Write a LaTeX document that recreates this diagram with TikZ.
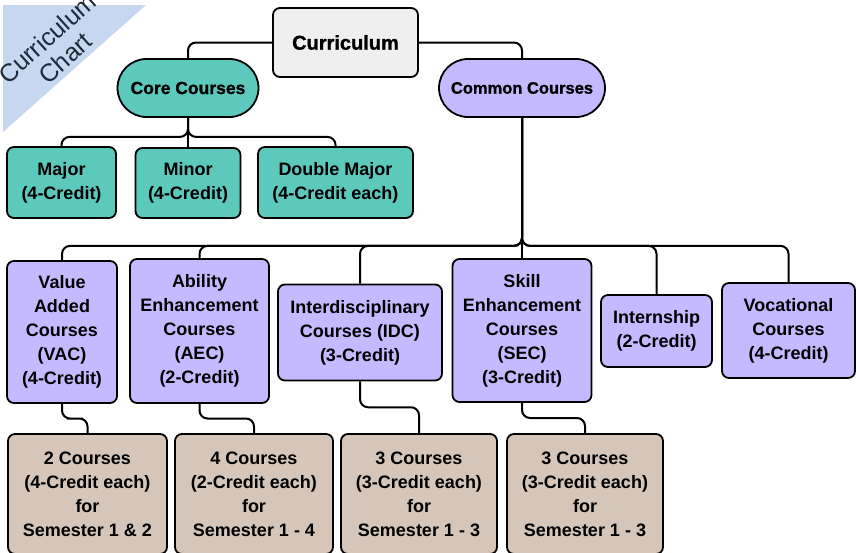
\documentclass[tikz,border=0pt]{standalone}
\usepackage{fontspec}
\setmainfont{Liberation Sans}
\newfontfamily\heavyfont{Liberation Sans Bold}[FakeBold=1.2]
\usetikzlibrary{calc}
\definecolor{cgray}{HTML}{EFEFEF}
\definecolor{cteal}{HTML}{5CC9BC}
\definecolor{clav}{HTML}{C5BAFF}
\definecolor{cbeige}{HTML}{D6C6BA}
\definecolor{cribbon}{HTML}{C5D8F0}
\definecolor{cink}{HTML}{1E2B3A}
\begin{document}
\begin{tikzpicture}[x=1pt,y=-1pt,
   box/.style={draw,line width=1.8pt,rounded corners=7pt,align=center,inner sep=0pt,
      font=\fontsize{18}{24}\selectfont\bfseries},
   pill/.style={box,rounded corners=29pt,minimum height=58pt},
   core box/.style={box,fill=cteal},
   common box/.style={box,fill=clav},
   term box/.style={box,fill=cbeige,minimum width=157pt,minimum height=120pt},
   link/.style={draw,line width=2pt,rounded corners=8pt}]
   \useasboundingbox (0,0) rectangle (856,552);
   \fill[cribbon] (3,5) -- (146,5) -- (3,132) -- cycle;
   \node[rotate=42,align=center,text=cink,font=\fontsize{25}{27}\selectfont] (ribbon) at (56,48) {Curriculum\\Chart};

   \node[box,fill=cgray,minimum width=145pt,minimum height=69pt,font=\fontsize{20}{24}\selectfont\heavyfont] (cur) at (345.5,42.5) {Curriculum};
   \node[pill,fill=cteal,minimum width=141pt,font=\fontsize{17.5}{20}\selectfont\heavyfont] (core) at (188,88) {Core Courses};
   \node[pill,fill=clav,minimum width=166pt,font=\fontsize{16.5}{20}\selectfont\heavyfont] (common) at (522,88) {Common Courses};

   \node[core box,minimum width=109pt,minimum height=71pt] (maj) at (61.5,182.5) {Major\\(4-Credit)};
   \node[core box,minimum width=105pt,minimum height=70pt] (mnr) at (188,183) {Minor\\(4-Credit)};
   \node[core box,minimum width=155pt,minimum height=71pt] (dmaj) at (335.5,182.5) {Double Major\\(4-Credit each)};

   \node[common box,minimum width=110pt,minimum height=142pt] (vac) at (62,332) {Value\\Added\\Courses\\(VAC)\\(4-Credit)};
   \node[common box,minimum width=139pt,minimum height=144pt] (aec) at (199.5,331) {Ability\\Enhancement\\Courses\\(AEC)\\(2-Credit)};
   \node[common box,minimum width=164pt,minimum height=96pt] (idc) at (360,332.5) {Interdisciplinary\\Courses (IDC)\\(3-Credit)};
   \node[common box,minimum width=139pt,minimum height=143pt] (sec) at (522,330.5) {Skill\\Enhancement\\Courses\\(SEC)\\(3-Credit)};
   \node[common box,minimum width=111pt,minimum height=72pt] (intern) at (656.5,331) {Internship\\(2-Credit)};
   \node[common box,minimum width=133pt,minimum height=95pt] (voc) at (788.5,330.5) {Vocational\\Courses\\(4-Credit)};

   \node[term box,minimum width=159pt] (s_1) at (87.5,494) {2 Courses\\(4-Credit each)\\for\\Semester 1 \& 2};
   \node[term box,minimum width=158pt] (s_2) at (254,494) {4 Courses\\(2-Credit each)\\for\\Semester 1 - 4};
   \node[term box,minimum width=156pt] (s_3) at (419,494) {3 Courses\\(3-Credit each)\\for\\Semester 1 - 3};
   \node[term box,minimum width=156pt] (s_4) at (585,494) {3 Courses\\(3-Credit each)\\for\\Semester 1 - 3};

   \path[link] (cur.west) -| (core.north);
   \path[link] (cur.east) -| (common.north);
   \path[link] (core.south) -- (mnr.north);
   \foreach \n in {maj,dmaj}
      \path[link] (core.south) -- ++(0,19) -| (\n.north);
   \path[link] (common.south) -- (sec.north);
   \foreach \n in {vac,aec,idc,intern,voc}
      \path[link] (common.south) -- ++(0,128) -| (\n.north);
   \foreach \a/\b in {vac/s_1,aec/s_2,idc/s_3,sec/s_4}
      \path[link] (\a.south) |- ($(\a.south)!.5!(\b.north)$) -| (\b.north);
\end{tikzpicture}
\end{document}
